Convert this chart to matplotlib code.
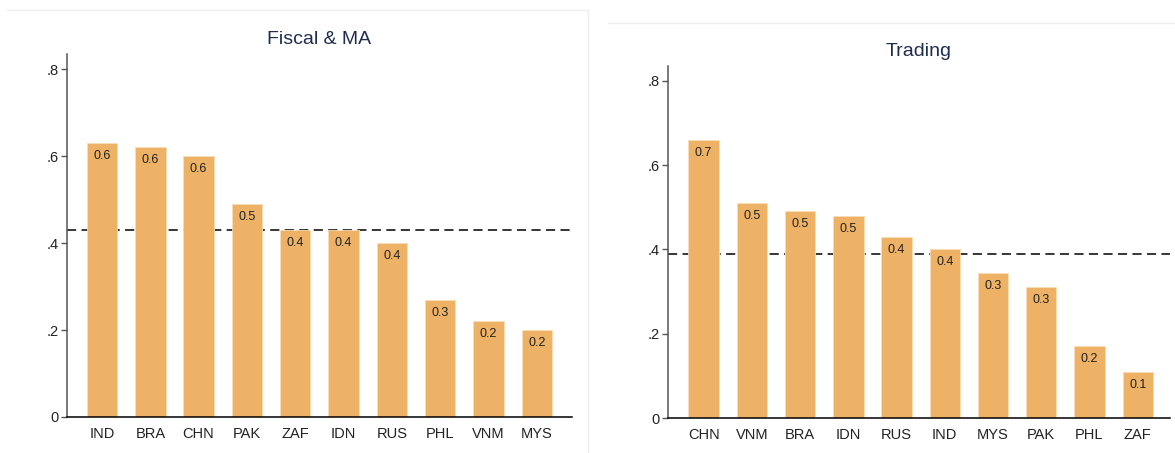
import matplotlib
matplotlib.use("Agg")
import matplotlib.pyplot as plt
from matplotlib.lines import Line2D

plt.rcParams["font.family"] = ["Liberation Sans", "DejaVu Sans"]

# Fiscal & MA panel
fiscal_countries = ["IND", "BRA", "CHN", "PAK", "ZAF", "IDN", "RUS", "PHL", "VNM", "MYS"]
fiscal_values = [0.63, 0.62, 0.60, 0.49, 0.43, 0.43, 0.40, 0.27, 0.22, 0.20]
fiscal_mean = 0.43

# Trading panel
trading_countries = ["CHN", "VNM", "BRA", "IDN", "RUS", "IND", "MYS", "PAK", "PHL", "ZAF"]
trading_values = [0.66, 0.51, 0.49, 0.48, 0.43, 0.40, 0.345, 0.31, 0.17, 0.11]
trading_mean = 0.39

y_ticks = [0, 0.2, 0.4, 0.6, 0.8]
y_tick_labels = ["0", ".2", ".4", ".6", ".8"]

BAR_COLOR = "#EDB266"
BAR_EDGE = "#F8DDB8"
TITLE_COLOR = "#1F2D4E"
AXIS_COLOR = "#555555"


def draw_panel(ax, title, countries, values, mean, xlim):
    pos = list(range(1, len(countries) + 1))
    ax.axhline(mean, color="black", linestyle=(0, (6, 3.5)), linewidth=1.1, zorder=1)
    bars = ax.bar(pos, values, width=0.63, color=BAR_COLOR, edgecolor=BAR_EDGE,
                  linewidth=0.6, zorder=2)
    for bar, v in zip(bars, values):
        ax.annotate(f"{v:.1f}", (bar.get_x() + bar.get_width() / 2, v),
                    xytext=(0, -13), textcoords="offset pixels",
                    ha="center", va="center", fontsize=9, color="#222222", zorder=3)

    ax.set_xlim(*xlim)
    ax.set_ylim(0, 0.835)
    ax.set_xticks(pos)
    ax.set_xticklabels(countries, fontsize=10.5, color="#222222")
    ax.set_yticks(y_ticks)
    ax.set_yticklabels(y_tick_labels, fontsize=10.5, color="#222222")
    ax.tick_params(axis="x", length=0, pad=7)
    ax.tick_params(axis="y", length=4, width=1, color=AXIS_COLOR, pad=2)
    for side in ("top", "right"):
        ax.spines[side].set_visible(False)
    ax.spines["left"].set_color(AXIS_COLOR)
    ax.spines["left"].set_linewidth(1.1)
    ax.spines["bottom"].set_color("black")
    ax.spines["bottom"].set_linewidth(1.1)
    ax.set_title(title, fontsize=14, color=TITLE_COLOR, pad=7)


fig = plt.figure(figsize=(11.75, 4.53), dpi=100)

# faint panel borders
W, H = 1175, 453
border = "#EEEEEE"
fig.add_artist(Line2D([7 / W, 588 / W], [1 - 10 / H, 1 - 10 / H], color=border, lw=1))
fig.add_artist(Line2D([588 / W, 588 / W], [1 - 10 / H, 0], color=border, lw=1))
fig.add_artist(Line2D([608 / W, 1], [1 - 23 / H, 1 - 23 / H], color=border, lw=1))

ax1 = fig.add_axes([67 / W, 1 - 417 / H, (572 - 67) / W, (417 - 54) / H])
ax2 = fig.add_axes([668 / W, 1 - 418 / H, (1170 - 668) / W, (418 - 66) / H])

draw_panel(ax1, "Fiscal & MA", fiscal_countries, fiscal_values, fiscal_mean, (0.275, 10.73))
draw_panel(ax2, "Trading", trading_countries, trading_values, trading_mean, (0.26, 10.67))

fig.savefig("out.png", dpi=100)
